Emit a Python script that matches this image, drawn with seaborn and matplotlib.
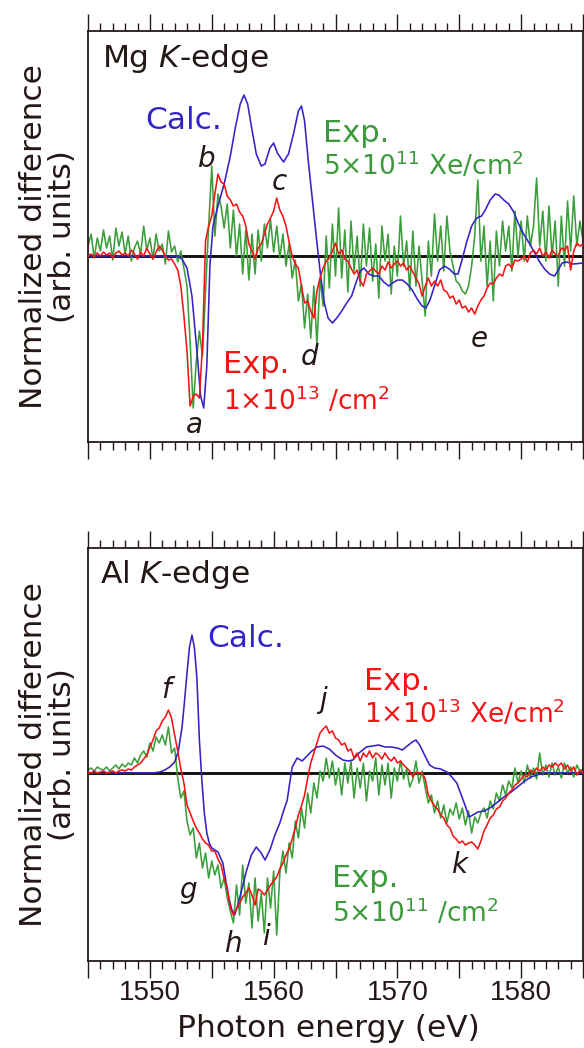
import numpy as np
import pandas as pd
import matplotlib
matplotlib.use("Agg")
import matplotlib.pyplot as plt
import seaborn as sns
from matplotlib.ticker import MultipleLocator, FuncFormatter

# ---------------- data ----------------
# common 0.25 eV sampling grid for the experimental spectra
energy_grid = np.round(np.arange(1545.0, 1585.001, 0.25), 2)

# Mg K-edge panel
mg_exp_low = [  # 5x10^11 Xe/cm2 (green)
    0.10, 0.22, -0.02, 0.18, 0.05, 0.26, 0.08, 0.20, -0.04, 0.28, 0.10, 0.24,
    0.02, 0.20, -0.05, 0.08, 0.15, 0.02, 0.30, 0.06, 0.18, -0.03, 0.22, 0.05,
    0.12, -0.08, 0.25, 0.04, 0.10, -0.06, 0.05, -0.12, -0.30, -0.85, -1.52, -1.05,
    -0.75, -1.00, -0.35, 0.30, 0.90, 0.20, 0.62, 0.50, 0.28, 0.52, 0.08, 0.46,
    0.00, 0.32, -0.18, 0.26, -0.24, 0.22, -0.18, 0.26, -0.05, 0.32, 0.08, 0.36,
    0.04, 0.30, -0.02, 0.22, -0.10, 0.12, -0.22, -0.04, -0.45, -0.28, -0.72, -0.38,
    -0.82, -0.30, -0.88, -0.22, -0.50, 0.20, -0.32, 0.32, -0.20, 0.48, -0.22, 0.26,
    -0.36, 0.35, -0.15, 0.20, -0.30, 0.32, -0.10, 0.28, -0.25, 0.12, -0.42, 0.30,
    -0.05, 0.22, -0.38, 0.10, -0.20, 0.40, -0.10, 0.15, -0.35, 0.25, -0.30, 0.10,
    -0.25, -0.60, 0.15, -0.20, 0.42, -0.05, 0.30, -0.15, 0.40, 0.05, -0.10, -0.25,
    -0.28, -0.35, -0.38, -0.30, -0.10, 0.20, 0.76, -0.05, 0.30, -0.30, 0.15, -0.45,
    0.25, -0.10, 0.35, 0.05, 0.30, -0.15, 0.45, 0.00, 0.35, -0.05, 0.40, 0.10,
    0.30, 0.78, 0.10, 0.45, -0.05, 0.50, 0.00, 0.35, -0.30, 0.40, -0.10, 0.55,
    0.05, 0.60, 0.10, 0.35, 0.15]
mg_exp_high = [  # 1x10^13 /cm2 (red)
    0.00, 0.02, -0.01, 0.03, 0.00, 0.04, 0.01, 0.03, -0.02, 0.03, 0.05, 0.01,
    0.03, 0.00, 0.06, 0.02, -0.03, 0.04, 0.00, 0.08, 0.02, -0.03, 0.04, 0.10,
    0.06, 0.00, -0.04, -0.03, -0.08, -0.14, -0.30, -0.60, -0.95, -1.50, -1.40, -1.38,
    -1.42, -0.90, 0.15, 0.30, 0.40, 0.62, 0.82, 0.74, 0.72, 0.60, 0.56, 0.50,
    0.52, 0.44, 0.40, 0.30, 0.12, 0.05, -0.03, 0.08, 0.12, 0.22, 0.32, 0.38,
    0.45, 0.58, 0.46, 0.40, 0.30, 0.14, 0.00, -0.08, -0.12, -0.30, -0.47, -0.45,
    -0.55, -0.62, -0.35, -0.22, -0.12, -0.05, -0.02, 0.05, 0.13, 0.02, 0.06, -0.03,
    -0.05, -0.12, -0.18, -0.14, -0.25, -0.30, -0.18, -0.15, -0.12, -0.15, -0.18, -0.10,
    -0.14, -0.06, -0.12, -0.08, -0.05, -0.10, -0.07, -0.14, -0.10, -0.16, -0.22, -0.28,
    -0.40, -0.30, -0.22, -0.30, -0.25, -0.30, -0.24, -0.34, -0.36, -0.42, -0.40, -0.48,
    -0.44, -0.52, -0.50, -0.56, -0.52, -0.58, -0.50, -0.44, -0.40, -0.32, -0.27, -0.28,
    -0.22, -0.18, -0.20, -0.10, -0.08, -0.12, -0.04, -0.05, -0.03, 0.00, -0.06, 0.03,
    0.06, 0.02, 0.08, 0.00, 0.04, -0.02, 0.06, 0.02, 0.00, 0.08, 0.06, 0.10,
    -0.14, 0.05, 0.13, 0.10, 0.12]
mg_calc_energy = [
    1545.0, 1551.0, 1552.2, 1552.6, 1553.0, 1553.4, 1553.8, 1554.1, 1554.35, 1554.6,
    1554.85, 1555.1, 1555.5, 1556.0, 1556.5, 1556.9, 1557.3, 1557.6, 1557.9, 1558.2,
    1558.6, 1559.0, 1559.3, 1559.7, 1560.0, 1560.3, 1560.8, 1561.2, 1561.6, 1562.0,
    1562.25, 1562.5, 1562.8, 1563.1, 1563.5, 1563.8, 1564.1, 1564.4, 1564.75, 1565.1,
    1565.5, 1565.9, 1566.3, 1566.7, 1567.0, 1567.3, 1567.7, 1568.1, 1568.5, 1568.9,
    1569.3, 1569.6, 1570.0, 1570.4, 1570.8, 1571.2, 1571.6, 1572.0, 1572.3, 1572.6,
    1573.0, 1573.4, 1573.8, 1574.2, 1574.6, 1574.9, 1575.2, 1575.6, 1576.0, 1576.4,
    1576.8, 1577.1, 1577.5, 1577.9, 1578.2, 1578.6, 1579.0, 1579.4, 1579.8, 1580.2,
    1580.7, 1581.1, 1581.5, 1581.9, 1582.3, 1582.7, 1583.0, 1583.3, 1583.7, 1584.2,
    1585.0]
mg_calc = [
    0.00, 0.00, 0.00, -0.03, -0.12, -0.40, -0.95, -1.40, -1.52, -1.10,
    -0.10, 0.30, 0.50, 0.72, 1.00, 1.28, 1.52, 1.61, 1.52, 1.30,
    1.02, 0.90, 0.92, 1.08, 1.13, 1.03, 0.94, 1.02, 1.22, 1.45,
    1.50, 1.35, 0.95, 0.60, 0.13, -0.20, -0.47, -0.62, -0.67, -0.62,
    -0.55, -0.47, -0.40, -0.25, -0.15, -0.12, -0.18, -0.20, -0.20, -0.26,
    -0.30, -0.27, -0.24, -0.24, -0.28, -0.34, -0.43, -0.50, -0.52, -0.45,
    -0.30, -0.14, -0.10, -0.13, -0.18, -0.18, -0.05, 0.14, 0.30, 0.38,
    0.40, 0.46, 0.56, 0.62, 0.61, 0.56, 0.52, 0.44, 0.32, 0.22,
    0.12, 0.03, -0.06, -0.13, -0.18, -0.20, -0.14, -0.07, -0.06, -0.08,
    -0.07]

# Al K-edge panel
al_exp_high = [  # 1x10^13 Xe/cm2 (red)
    0.01, 0.00, 0.02, 0.00, 0.01, 0.02, 0.00, 0.01, 0.02, 0.00, 0.02, 0.03,
    0.02, 0.04, 0.03, 0.06, 0.08, 0.10, 0.14, 0.18, 0.26, 0.33, 0.42, 0.45,
    0.52, 0.56, 0.63, 0.55, 0.38, 0.22, 0.04, -0.10, -0.32, -0.40, -0.48, -0.55,
    -0.60, -0.66, -0.70, -0.72, -0.78, -0.78, -0.86, -0.92, -1.05, -1.15, -1.35, -1.42,
    -1.36, -1.30, -1.24, -1.20, -1.15, -1.22, -1.32, -1.16, -1.18, -1.22, -1.17, -1.12,
    -1.08, -1.04, -0.96, -0.90, -0.82, -0.76, -0.66, -0.55, -0.42, -0.33, -0.22, -0.05,
    0.10, 0.20, 0.30, 0.40, 0.44, 0.47, 0.40, 0.42, 0.35, 0.33, 0.28, 0.30,
    0.22, 0.24, 0.15, 0.20, 0.12, 0.20, 0.16, 0.22, 0.15, 0.20, 0.18, 0.14,
    0.20, 0.15, 0.12, 0.16, 0.10, 0.12, 0.08, 0.05, 0.02, -0.04, 0.01, 0.00,
    0.00, -0.06, -0.22, -0.28, -0.33, -0.36, -0.42, -0.45, -0.52, -0.55, -0.63, -0.66,
    -0.70, -0.68, -0.72, -0.70, -0.69, -0.72, -0.76, -0.68, -0.58, -0.52, -0.45, -0.42,
    -0.36, -0.34, -0.28, -0.25, -0.20, -0.17, -0.12, -0.10, -0.06, -0.02, -0.04, 0.03,
    0.00, 0.05, 0.02, 0.06, 0.03, 0.08, 0.06, 0.10, 0.07, 0.10, 0.04, 0.08,
    0.02, 0.06, -0.02, 0.03, 0.00]
al_exp_low = [  # 5x10^11 /cm2 (green)
    0.03, 0.05, 0.02, 0.06, 0.04, 0.03, 0.06, 0.02, 0.05, 0.08, 0.04, 0.09,
    0.06, 0.10, 0.08, 0.15, 0.10, 0.18, 0.22, 0.16, 0.30, 0.22, 0.36, 0.30,
    0.38, 0.28, 0.46, 0.20, 0.25, -0.05, -0.25, -0.18, -0.48, -0.62, -0.55, -0.85,
    -0.70, -0.95, -0.80, -1.05, -0.88, -1.02, -0.92, -1.15, -1.05, -1.25, -1.38, -1.50,
    -1.12, -1.42, -0.92, -1.30, -1.10, -1.55, -1.05, -1.48, -1.20, -1.60, -1.05, -1.35,
    -0.98, -1.62, -1.00, -0.78, -1.00, -0.70, -0.85, -0.48, -0.65, -0.35, -0.55, -0.20,
    -0.40, -0.10, -0.25, 0.02, -0.08, 0.15, -0.05, 0.12, -0.12, 0.05, -0.22, 0.10,
    -0.10, 0.12, -0.25, 0.05, -0.15, 0.10, -0.28, 0.02, -0.08, 0.15, -0.22, 0.08,
    -0.12, 0.10, -0.25, 0.05, -0.08, 0.12, -0.06, 0.04, -0.14, -0.06, 0.12, -0.10,
    0.02, -0.15, -0.30, -0.22, -0.40, -0.28, -0.45, -0.32, -0.50, -0.36, -0.42, -0.30,
    -0.46, -0.35, -0.52, -0.38, -0.60, -0.44, -0.50, -0.40, -0.35, -0.45, -0.28, -0.36,
    -0.20, -0.28, -0.12, -0.22, -0.08, -0.15, 0.05, -0.10, 0.02, -0.10, 0.08, -0.05,
    0.05, -0.06, 0.20, -0.02, 0.08, -0.04, 0.10, -0.02, 0.06, -0.05, 0.10, 0.00,
    0.06, -0.04, 0.08, 0.02, 0.04]
al_calc_energy = [
    1545.0, 1549.0, 1550.2, 1550.8, 1551.2, 1551.6, 1552.0, 1552.3, 1552.6, 1552.8,
    1553.0, 1553.2, 1553.4, 1553.6, 1553.8, 1554.0, 1554.2, 1554.4, 1554.6, 1554.8,
    1555.0, 1555.5, 1555.9, 1556.3, 1556.6, 1556.85, 1557.1, 1557.4, 1557.8, 1558.2,
    1558.6, 1559.0, 1559.3, 1559.7, 1560.1, 1560.5, 1560.8, 1561.1, 1561.3, 1561.5,
    1561.9, 1562.3, 1562.7, 1563.0, 1563.5, 1564.0, 1564.5, 1565.0, 1565.6, 1566.0,
    1566.4, 1566.9, 1567.5, 1568.0, 1568.5, 1569.0, 1569.5, 1570.0, 1570.4, 1570.8,
    1571.2, 1571.5, 1571.8, 1572.2, 1572.6, 1573.0, 1573.5, 1574.0, 1574.4, 1574.8,
    1575.1, 1575.4, 1575.8, 1576.1, 1576.5, 1577.0, 1577.6, 1578.1, 1578.6, 1579.2,
    1579.7, 1580.3, 1580.8, 1581.5, 1582.1, 1585.0]
al_calc = [
    0.00, 0.00, 0.00, 0.01, 0.03, 0.06, 0.11, 0.22, 0.46, 0.72,
    1.00, 1.26, 1.38, 1.25, 0.95, 0.33, -0.07, -0.40, -0.60, -0.70,
    -0.75, -0.79, -0.90, -1.20, -1.36, -1.42, -1.32, -1.18, -0.98, -0.82,
    -0.74, -0.80, -0.87, -0.77, -0.62, -0.50, -0.38, -0.27, -0.10, 0.06,
    0.15, 0.12, 0.17, 0.21, 0.26, 0.27, 0.24, 0.18, 0.13, 0.12,
    0.13, 0.20, 0.26, 0.27, 0.28, 0.26, 0.26, 0.25, 0.23, 0.27,
    0.31, 0.33, 0.28, 0.18, 0.08, 0.05, 0.04, 0.01, -0.04, -0.10,
    -0.20, -0.30, -0.44, -0.42, -0.39, -0.38, -0.34, -0.29, -0.24, -0.19,
    -0.14, -0.08, -0.04, -0.01, 0.00, 0.00]

x_tick_labels = [1550, 1560, 1570, 1580]

# ---------------- style ----------------
sns.set_style("ticks")
plt.rcParams['font.family'] = ['DejaVu Sans']
plt.rcParams['mathtext.fontset'] = 'dejavusans'

TXT = '#231815'
BLUE = '#3322c8'
RED = '#f41414'
GREEN = '#3a9e3a'
GREEN_T = '#3c9a3c'
LW = 1.15

fig = plt.figure(figsize=(5.84, 10.48), dpi=100)
ax1 = fig.add_axes([0.1507, 0.5782, 0.8476, 0.3922])
ax2 = fig.add_axes([0.1507, 0.0830, 0.8476, 0.3941])


def draw(ax, low, calc_e, calc, high):
    ax.axhline(0, color='#111111', lw=2.1, zorder=1)
    sns.lineplot(x=energy_grid, y=low, ax=ax, color=GREEN, lw=LW,
                 estimator=None, sort=False, zorder=2)
    sns.lineplot(x=calc_e, y=calc, ax=ax, color=BLUE, lw=LW,
                 estimator=None, sort=False, zorder=3)
    sns.lineplot(x=energy_grid, y=high, ax=ax, color=RED, lw=LW,
                 estimator=None, sort=False, zorder=4)


def style(ax, ylim, show_labels):
    ax.set_xlim(1545, 1585)
    ax.set_ylim(*ylim)
    ax.xaxis.set_major_locator(MultipleLocator(5))
    ax.xaxis.set_minor_locator(MultipleLocator(1))
    ax.xaxis.set_major_formatter(FuncFormatter(
        lambda v, p: f"{int(round(v))}" if int(round(v)) in x_tick_labels else ""))
    ax.tick_params(axis='x', which='both', direction='out', top=True, bottom=True,
                   color=TXT, width=1.0, labelbottom=show_labels, labeltop=False,
                   pad=1.5, labelsize=20, labelcolor=TXT,
                   labelfontfamily='Liberation Sans')
    ax.tick_params(axis='x', which='major', length=12)
    ax.tick_params(axis='x', which='minor', length=5.8)
    ax.set_yticks([])
    for s in ax.spines.values():
        s.set_visible(True)
        s.set_linewidth(1.3)
        s.set_color(TXT)
    ax.set_ylabel("Normalized difference\n(arb. units)", fontsize=22.5,
                  color=TXT, linespacing=1.0)
    ax.yaxis.set_label_coords(-0.022, 0.5)
    ax.set_xlabel("")


draw(ax1, mg_exp_low, mg_calc_energy, mg_calc, mg_exp_high)
style(ax1, (-1.86, 2.25), False)
draw(ax2, al_exp_low, al_calc_energy, al_calc, al_exp_high)
style(ax2, (-1.88, 2.25), True)
ax2.set_xlabel("Photon energy (eV)", fontsize=22.5, color=TXT)
ax2.xaxis.set_label_coords(0.485, -0.128)

FS = 22.5   # panel titles, Calc.
FE = 22     # "Exp."
F2 = 19     # dose lines
FL = 20     # peak letters


def exp_label(ax, x, y1, y2, dose, color):
    ax.text(x, y1, "Exp.", fontsize=FE, color=color, va='baseline')
    ax.text(x, y2, dose, fontsize=F2, color=color, va='baseline')


# Mg panel annotations
ax1.text(1546.1, 1.89, r"Mg $\mathit{K}$-edge", fontsize=FS, color=TXT, va='baseline')
ax1.text(1549.6, 1.27, "Calc.", fontsize=FS, color=BLUE, va='baseline')
exp_label(ax1, 1563.95, 1.14, 0.81, r"5×10$^{11}$ Xe/cm$^{2}$", GREEN_T)
exp_label(ax1, 1555.9, -1.17, -1.54, r"1×10$^{13}$ /cm$^{2}$", RED)
for lbl, xe, yv in [("a", 1553.6, -1.77), ("b", 1554.6, 0.89), ("c", 1560.5, 0.66),
                    ("d", 1562.9, -1.09), ("e", 1576.6, -0.91)]:
    ax1.text(xe, yv, lbl, fontsize=FL, style='italic', color=TXT, ha='center', va='baseline')

# Al panel annotations
ax2.text(1546.0, 1.90, r"Al $\mathit{K}$-edge", fontsize=FS, color=TXT, va='baseline')
ax2.text(1554.6, 1.26, "Calc.", fontsize=FS, color=BLUE, va='baseline')
exp_label(ax2, 1567.3, 0.83, 0.50, r"1×10$^{13}$ Xe/cm$^{2}$", RED)
exp_label(ax2, 1564.7, -1.14, -1.49, r"5×10$^{11}$ /cm$^{2}$", GREEN_T)
for lbl, xe, yv in [("f", 1551.3, 0.75), ("g", 1553.1, -1.25), ("h", 1556.7, -1.79),
                    ("i", 1559.35, -1.72), ("j", 1564.0, 0.65), ("k", 1575.0, -1.00)]:
    ax2.text(xe, yv, lbl, fontsize=FL, style='italic', color=TXT, ha='center', va='baseline')

fig.savefig("out.png", dpi=100)
